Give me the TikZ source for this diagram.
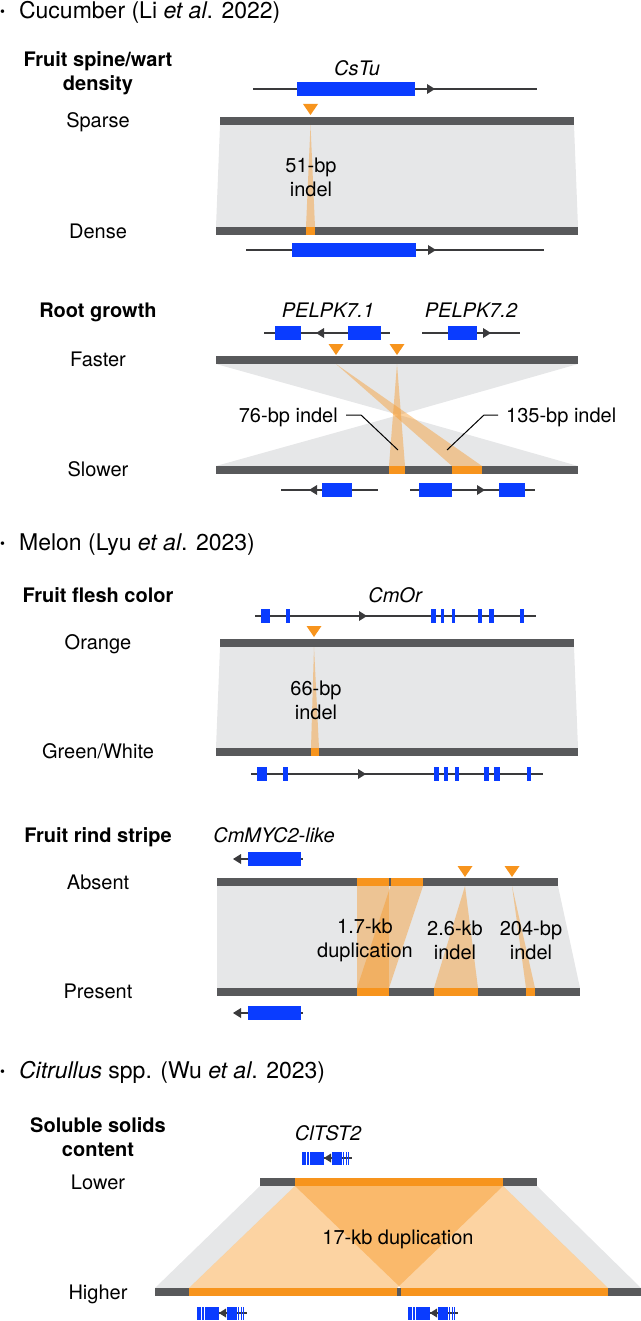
\documentclass[tikz,border=0pt]{standalone}
\usepackage{fontspec}
\setmainfont{TeX Gyre Heros}
\usetikzlibrary{calc}
\definecolor{bardark}{HTML}{58595B}
\definecolor{bandgray}{HTML}{E6E7E8}
\definecolor{orng}{HTML}{F7941D}
\definecolor{gblue}{HTML}{0A3CFF}
\definecolor{gline}{HTML}{3A3A3C}
\newcommand{\gBox}[3]{\fill[gblue] (#1,#3-7) rectangle (#2,#3+7);}
\newcommand{\gArR}[2]{\fill[gline] (#1-8,#2-5) -- (#1,#2) -- (#1-8,#2+5) -- cycle;}
\newcommand{\gArL}[2]{\fill[gline] (#1+8,#2-5) -- (#1,#2) -- (#1+8,#2+5) -- cycle;}
\newcommand{\oTri}[2]{\fill[orng] (#1-7.5,#2) -- (#1+7.5,#2) -- (#1,#2+11) -- cycle;}
\newcommand{\hdrbullet}{\raisebox{2pt}{\fontsize{14}{14}\selectfont\textbullet}\hspace{14pt}}
\newcommand{\clGene}[2]{%
  \begin{scope}[shift={(#1,#2)}]
    \draw[gline, line width=1.5pt] (21,0) -- (50,0);
    \fill[gblue] (0,-6.5) rectangle (4.3,6.5);
    \fill[gblue] (5.3,-6.5) rectangle (7.3,6.5);
    \fill[gblue] (8.3,-6.5) rectangle (21.7,6.5);
    \fill[gline] (29,-4.5) -- (21.9,0) -- (29,4.5) -- cycle;
    \fill[gblue] (30,-6.5) rectangle (36.7,6.5);
    \fill[gblue] (37.4,-6.5) rectangle (40,6.5);
    \fill[gblue] (41.3,-6.5) rectangle (42.1,6.5);
    \fill[gblue] (43.6,-6.5) rectangle (44.4,6.5);
    \fill[gblue] (46.3,-6.5) rectangle (47.1,6.5);
  \end{scope}}
\begin{document}
\begin{tikzpicture}[x=1pt,y=-1pt,
  lbl/.style={font=\fontsize{20}{24}\selectfont, inner sep=0pt, text height=14.4pt, text depth=0pt},
  gname/.style={lbl, font=\fontsize{20}{24}\selectfont\itshape},
  ttl/.style={font=\fontsize{20}{24}\selectfont\bfseries, inner sep=0pt, align=center},
  ttlone/.style={ttl, text height=14.4pt, text depth=0pt},
  two/.style={font=\fontsize{20}{24}\selectfont, inner sep=0pt, align=center},
  hdr/.style={font=\fontsize{23}{27}\selectfont, inner sep=0pt, anchor=west, text height=16.5pt, text depth=0pt},
  darkbar/.style={fill=bardark},
  band/.style={fill=bandgray},
  wedge/.style={fill=orng, fill opacity=0.41},
  oseg/.style={fill=orng},
  gl/.style={draw=gline, line width=2.5pt},
  leader/.style={draw=black, line width=1pt},
]
\useasboundingbox (0,0) rectangle (640,1321);

% ================= Section 1: Cucumber =================
\node[hdr] (h1) at (0,10) {\hdrbullet Cucumber (Li \textit{et al}. 2022)};
\node[ttl] (t1) at (98,73) {Fruit spine/wart\\density};
\node[gname] (g1) at (357,68) {CsTu};
\fill[band] (220,125) -- (574,125) -- (578,227) -- (216,227) -- cycle;
\fill[wedge] (310.5,125) -- (315,227) -- (306,227) -- cycle;
\fill[darkbar] (220,117) rectangle (574,125);
\fill[darkbar] (216,227) rectangle (578,235);
\fill[oseg] (306,227) rectangle (315,235);
\oTri{310.5}{104}
\draw[gl] (253,89) -- (537,89);
\gBox{297}{415}{89}
\gArR{435}{89}
\draw[gl] (246,250) -- (544,250);
\gBox{292}{416}{250}
\gArR{436}{250}
\node[lbl] (s1) at (98,120) {Sparse};
\node[lbl] (d1) at (98,231) {Dense};
\node[two] (i51) at (311,177) {51-bp\\indel};

% ================= Section 2: Root growth =================
\node[ttlone] (t2) at (98,310) {Root growth};
\node[gname] (g2a) at (328,310) {PELPK7.1};
\node[gname] (g2b) at (471,310) {PELPK7.2};
\draw[gl] (264,333) -- (390,333);
\gBox{275}{301}{333}
\gBox{348}{381}{333}
\gArL{316}{333}
\draw[gl] (422,333) -- (520,333);
\gBox{448}{477}{333}
\gArR{491}{333}
\fill[band] (216,364) -- (578,364) -- (399,415) -- cycle;
\fill[band] (216,466) -- (578,466) -- (399,415) -- cycle;
\fill[wedge] (397,364) -- (405,466) -- (389,466) -- cycle;
\fill[wedge] (336,364) -- (482,466) -- (452,466) -- cycle;
\fill[darkbar] (216,356) rectangle (578,364);
\fill[darkbar] (216,466) rectangle (578,474);
\fill[oseg] (389,466) rectangle (405,474);
\fill[oseg] (452,466) rectangle (482,474);
\oTri{336}{344}
\oTri{397}{344}
\draw[gl] (281,490) -- (378,490);
\gArL{309}{490}
\gBox{322}{352}{490}
\draw[gl] (410,490) -- (535,490);
\gBox{419}{452}{490}
\gArR{485}{490}
\gBox{499}{525}{490}
\node[lbl] (f2) at (98,359) {Faster};
\node[lbl] (s2) at (98,469) {Slower};
\node[lbl, anchor=east] (l76) at (338,415) {76-bp indel};
\node[lbl, anchor=west] (l135) at (506,415) {135-bp indel};
\coordinate (p76) at (398,450);
\coordinate (p135) at (447,450);
\draw[leader] ($(l76.east)+(8,0)$) -- ++(15,0) -- (p76);
\draw[leader] ($(l135.west)+(-8,0)$) -- ++(-14,0) -- (p135);

% ================= Section 3: Melon flesh =================
\node[hdr] (h2) at (0,542) {\hdrbullet Melon (Lyu \textit{et al}. 2023)};
\node[ttlone] (t3) at (98,595) {Fruit flesh color};
\node[gname] (g3) at (395,595) {CmOr};
\draw[gl] (255,616) -- (536,616);
\foreach \a/\b in {261/270, 285.7/290, 431/435.7, 441/444.3, 451.7/455, 478/482, 489/494, 520/524}
  {\gBox{\a}{\b}{616}}
\gArR{367}{616}
\fill[band] (220,647) -- (574,647) -- (578,748) -- (216,748) -- cycle;
\fill[wedge] (314,647) -- (319,748) -- (311,748) -- cycle;
\fill[darkbar] (220,639) rectangle (574,647);
\fill[darkbar] (216,748) rectangle (578,756);
\fill[oseg] (311,748) rectangle (319,756);
\oTri{314}{626}
\draw[gl] (251,774) -- (543,774);
\foreach \a/\b in {257/267, 283/288, 434/439, 444/448, 455/459, 484/489, 494/500, 527/531}
  {\gBox{\a}{\b}{774}}
\gArR{366}{774}
\node[lbl] (o3) at (98,642) {Orange};
\node[lbl] (w3) at (98,751) {Green/White};
\node[two] (i66) at (316,700) {66-bp\\indel};

% ================= Section 4: Melon rind =================
\node[ttlone] (t4) at (98,835) {Fruit rind stripe};
\node[gname] (g4) at (274,835) {CmMYC2-like};
\draw[gl] (235,859) -- (303,859);
\gArL{233}{859}
\gBox{248}{301}{859}
\fill[band] (217,886) -- (558,886) -- (580,988) -- (217,988) -- cycle;
\fill[wedge] (357,886) rectangle (389,988);
\fill[wedge] (390.5,886) -- (423,886) -- (389,988) -- (357,988) -- cycle;
\fill[wedge] (465,886) -- (478,988) -- (434,988) -- cycle;
\fill[wedge] (512,886) -- (535,988) -- (526,988) -- cycle;
\fill[darkbar] (217,878) rectangle (558,886);
\fill[oseg] (357,878) rectangle (389,886);
\fill[oseg] (390.5,878) rectangle (423,886);
\fill[darkbar] (217,988) rectangle (580,996);
\fill[oseg] (357,988) rectangle (389,996);
\fill[oseg] (434,988) rectangle (478,996);
\fill[oseg] (526,988) rectangle (535,996);
\oTri{465}{866}
\oTri{512}{866}
\draw[gl] (235,1013) -- (303,1013);
\gArL{233}{1013}
\gBox{248}{301}{1013}
\node[lbl] (a4) at (98,882) {Absent};
\node[lbl] (p4) at (98,991) {Present};
\node[two] (i17) at (365,940) {1.7-kb\\duplication};
\node[two] (i26) at (455,940) {2.6-kb\\indel};
\node[two] (i204) at (531,940) {204-bp\\indel};

% ================= Section 5: Citrullus =================
\node[hdr] (h3) at (0,1070) {\hdrbullet \textit{Citrullus} spp. (Wu \textit{et al}. 2023)};
\node[ttl] (t5) at (98,1137) {Soluble solids\\content};
\node[gname] (g5) at (328,1133) {ClTST2};
\clGene{302}{1158}
\fill[band] (260,1186) -- (295,1186) -- (189,1288) -- (155,1288) -- cycle;
\fill[band] (503,1186) -- (537,1186) -- (641,1288) -- (608,1288) -- cycle;
\fill[wedge] (295,1186) -- (503,1186) -- (397,1288) -- (189,1288) -- cycle;
\fill[wedge] (295,1186) -- (503,1186) -- (608,1288) -- (401,1288) -- cycle;
\fill[darkbar] (260,1178) rectangle (537,1186);
\fill[oseg] (295,1178) rectangle (503,1186);
\fill[darkbar] (155,1288) rectangle (641,1296);
\fill[oseg] (189,1288) rectangle (397,1296);
\fill[oseg] (401,1288) rectangle (608,1296);
\clGene{197}{1313}
\clGene{408}{1313}
\node[lbl] (lo5) at (98,1182) {Lower};
\node[lbl] (hi5) at (98,1292) {Higher};
\node[lbl] (d17) at (398,1237) {17-kb duplication};
\end{tikzpicture}
\end{document}
